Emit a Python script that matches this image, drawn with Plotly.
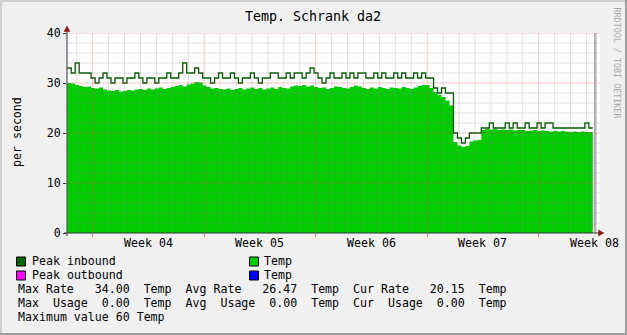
import plotly.graph_objects as go

# ---------------- data ----------------
# time axis in days relative to Monday of Week 04, one sample every 6 hours
t_start = -1.6
t_step = 0.25

temp = [
    30.0, 29.9, 29.6, 29.4, 29.2, 29.3, 29.0, 28.9, 29.1, 28.7,
    28.5, 28.4, 28.6, 28.3, 28.4, 28.6, 28.5, 28.7, 28.8, 28.6,
    28.9, 28.7, 28.9, 29.1, 28.8, 29.0, 29.2, 29.4, 29.6, 29.3,
    29.7, 29.9, 30.2, 30.1, 29.5, 29.2, 28.9, 29.0, 28.8, 28.7,
    28.9, 28.6, 28.8, 29.0, 28.7, 28.9, 29.1, 28.8, 29.0, 28.7,
    28.9, 29.1, 28.8, 29.2, 29.0, 28.9, 29.3, 29.5, 29.4, 29.6,
    29.3, 29.5, 29.2, 29.0, 29.1, 28.8, 29.0, 29.3, 29.2, 29.0,
    28.9, 29.2, 29.5, 29.3, 29.0, 28.8, 29.1, 28.9, 29.2, 29.0,
    28.8, 29.1, 29.0, 28.9, 29.2, 29.0, 28.8, 29.1, 29.4, 29.6,
    29.6, 29.0, 28.2, 27.6, 27.2, 26.5, 25.5, 18.2, 17.5, 17.2,
    17.4, 18.3, 18.5, 18.6, 20.6, 20.8, 20.7, 20.8, 20.6, 20.7,
    20.6, 20.7, 20.5, 20.6, 20.6, 20.4, 20.5, 20.6, 20.4, 20.5,
    20.4, 20.3, 20.4, 20.3, 20.4, 20.3, 20.2, 20.3, 20.2, 20.3,
    20.2, 20.2, 20.15,
]

peak_in = [
    33, 32, 34, 32, 32, 32, 31, 30, 31, 32,
    31, 30, 31, 31, 30, 31, 31, 32, 31, 30,
    31, 31, 30, 31, 31, 32, 31, 31, 32, 34,
    32, 32, 33, 32, 31, 31, 30, 31, 32, 31,
    31, 32, 31, 30, 31, 31, 32, 31, 30, 31,
    31, 32, 32, 31, 31, 32, 31, 32, 32, 31,
    32, 33, 32, 31, 30, 31, 32, 31, 31, 32,
    31, 32, 31, 32, 32, 31, 31, 32, 31, 32,
    31, 31, 32, 31, 32, 31, 31, 32, 31, 32,
    31, 31, 29, 28, 29, 28, 28, 20, 19, 18,
    19, 20, 20, 20, 21, 21, 22, 21, 21, 21,
    22, 21, 22, 21, 21, 22, 21, 21, 22, 21,
    22, 22, 21, 21, 21, 21, 21, 21, 21, 21,
    22, 21, 21,
]

week_starts = [0, 7, 14, 21, 28]
week_labels = ["Week 04", "Week 05", "Week 06", "Week 07", "Week 08"]
y_ticks = [0, 10, 20, 30, 40]

title_text = "Temp. Schrank da2"
y_label = "per second"
unit = "Temp"
max_rate, avg_rate, cur_rate = 34.00, 26.47, 20.15
max_usage, avg_usage, cur_usage = 0.00, 0.00, 0.00
max_value = 60

days = [t_start + t_step * i for i in range(len(temp))]

# ---------------- geometry helpers ----------------
W, H = 627, 335
L, R, T, B = 67, 27, 33, 102
PW, PH = W - L - R, H - T - B
X_RANGE = [-1.613, 31.85]
Y_RANGE = [0, 40]
MONO = "DejaVu Sans Mono"


def px(x):
    return (x - L) / PW


def py(y):
    return (H - B - y) / PH


fig = go.Figure()

fig.add_trace(go.Scatter(
    x=days, y=temp, mode="lines",
    line=dict(width=0, shape="hv", color="#00cc00"),
    fill="tozeroy", fillcolor="#00cc00", hoverinfo="skip"))
fig.add_trace(go.Scatter(
    x=days, y=peak_in, mode="lines",
    line=dict(width=1.3, shape="hv", color="#005800"), hoverinfo="skip"))

shapes = []
MINOR = "rgba(143,143,143,0.27)"
MAJOR = "rgba(222,79,79,0.32)"
# vertical grid (days / weeks)
for d in range(-1, 32):
    col = MAJOR if d % 7 == 0 else MINOR
    shapes.append(dict(type="line", xref="x", yref="y", x0=d, x1=d,
                       y0=Y_RANGE[0], y1=Y_RANGE[1], line=dict(color=col, width=1),
                       layer="above"))
# horizontal grid
for v in range(2, 41, 2):
    col = MAJOR if v % 10 == 0 else MINOR
    shapes.append(dict(type="line", xref="paper", yref="y", x0=0, x1=1,
                       y0=v, y1=v, line=dict(color=col, width=1), layer="above"))

# gray band at end of data
shapes.append(dict(type="rect", xref="paper", yref="paper", x0=px(594), x1=px(596.5),
                   y0=py(233), y1=py(33), fillcolor="rgba(150,150,150,0.75)",
                   line=dict(width=0), layer="above"))

AXIS = "#33333f"
ARROW = "#8b1a1a"
# axes lines
shapes.append(dict(type="line", xref="paper", yref="paper", x0=px(67), x1=px(67),
                   y0=py(236), y1=py(30), line=dict(color=AXIS, width=1), layer="above"))
shapes.append(dict(type="line", xref="paper", yref="paper", x0=px(64), x1=px(599),
                   y0=py(233), y1=py(233), line=dict(color=AXIS, width=1), layer="above"))
# arrows
shapes.append(dict(type="path", xref="paper", yref="paper",
                   path="M {} {} L {} {} L {} {} Z".format(px(64), py(31.5), px(70), py(31.5), px(67), py(26)),
                   fillcolor=ARROW, line=dict(color=ARROW, width=0.5), layer="above"))
shapes.append(dict(type="path", xref="paper", yref="paper",
                   path="M {} {} L {} {} L {} {} Z".format(px(598.5), py(230), px(598.5), py(236), px(604), py(233)),
                   fillcolor=ARROW, line=dict(color=ARROW, width=0.5), layer="above"))

# image border
shapes.append(dict(type="rect", xref="paper", yref="paper", x0=px(0), x1=px(W), y0=py(0), y1=py(2),
                   fillcolor="#cfcfcf", line=dict(width=0), layer="above"))
shapes.append(dict(type="rect", xref="paper", yref="paper", x0=px(0), x1=px(2), y0=py(0), y1=py(H),
                   fillcolor="#cfcfcf", line=dict(width=0), layer="above"))
shapes.append(dict(type="rect", xref="paper", yref="paper", x0=px(W - 2), x1=px(W), y0=py(0), y1=py(H),
                   fillcolor="#9e9e9e", line=dict(width=0), layer="above"))
shapes.append(dict(type="rect", xref="paper", yref="paper", x0=px(0), x1=px(W), y0=py(H - 2), y1=py(H),
                   fillcolor="#9e9e9e", line=dict(width=0), layer="above"))

# legend boxes
def box(x0, y0, color):
    shapes.append(dict(type="rect", xref="paper", yref="paper", x0=px(x0), x1=px(x0 + 9),
                       y0=py(y0 + 9), y1=py(y0), fillcolor=color,
                       line=dict(color="#000000", width=1), layer="above"))


box(16.5, 257, "#006600")
box(16.5, 271, "#ff00ff")
box(249.5, 257, "#00cc00")
box(249.5, 271, "#0000ff")

annotations = []


def ann(text, x, y, size=11.6, xanchor="left", color="#000000", angle=0, xref="paper"):
    annotations.append(dict(
        text=text.replace(" ", "\u00a0"), x=(px(x) if xref == "paper" else x), y=py(y),
        xref=xref, yref="paper", xanchor=xanchor, yanchor="middle",
        showarrow=False, textangle=angle, borderpad=0,
        font=dict(family=MONO, size=size, color=color)))


ann(title_text, 313, 17, size=13.3, xanchor="center")
ann(y_label, 17, 132, angle=-90, xanchor="center")
ann("RRDTOOL / TOBI OETIKER", 616.5, 63, size=8.4, xanchor="center", color="#a8a8a8", angle=90)

for ws, lab in zip(week_starts, week_labels):
    ann(lab, ws + 3.5, 243, xanchor="center", xref="x")

ann("Peak inbound", 31, 261)
ann("Peak outbound", 31, 275)
ann(unit, 263, 261)
ann(unit, 263, 275)
line1 = "Max Rate {:>7.2f}  {}  Avg Rate {:>7.2f}  {}  Cur Rate {:>7.2f}  {}".format(
    max_rate, unit, avg_rate, unit, cur_rate, unit)
line2 = "Max  Usage {:>5.2f}  {}  Avg  Usage {:>5.2f}  {}  Cur  Usage {:>5.2f}  {}".format(
    max_usage, unit, avg_usage, unit, cur_usage, unit)
line3 = "Maximum value {} {}".format(max_value, unit)
ann(line1, 17, 289)
ann(line2, 17, 303)
ann(line3, 17, 317)

fig.update_layout(
    width=W, height=H, autosize=False,
    margin=dict(l=L, r=R, t=T, b=B, pad=0),
    paper_bgcolor="#f0f0f0", plot_bgcolor="#ffffff",
    showlegend=False,
    shapes=shapes, annotations=annotations,
    xaxis=dict(range=X_RANGE, showgrid=False, zeroline=False, showline=False,
               tickvals=week_starts, ticktext=[""] * len(week_starts),
               ticks="outside", ticklen=3, tickcolor="rgba(222,79,79,0.7)",
               showticklabels=False, fixedrange=True),
    yaxis=dict(range=Y_RANGE, showgrid=False, zeroline=False, showline=False,
               tickvals=y_ticks, ticktext=[str(v) for v in y_ticks],
               ticks="outside", ticklen=3, tickcolor=AXIS,
               tickfont=dict(family=MONO, size=11.6, color="#000000"),
               fixedrange=True),
)

fig.write_html("out.html", config={"displayModeBar": False})
